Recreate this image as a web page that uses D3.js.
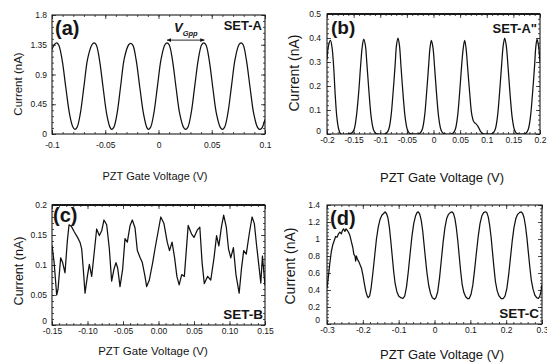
<!DOCTYPE html>
<html><head><meta charset="utf-8">
<script src="https://cdn.jsdelivr.net/npm/d3@7/dist/d3.min.js"></script>
<style>
body{margin:0;background:#fff}
svg{display:block}
text{font-family:"Liberation Sans",Arial,Helvetica,sans-serif;fill:#151515}
</style>
</head><body>
<svg id="chart" width="547" height="362"></svg>
<script>
// ---------- Panel (a) SET-A ----------
const aV=[-0.100,-0.0975,-0.0955,-0.0935,-0.0905,-0.087,-0.0835,-0.0805,-0.0785,-0.0765,-0.0735,-0.070,-0.0665,-0.0625,-0.0605,-0.0585,-0.0555,-0.052,-0.0485,-0.0455,-0.044,-0.042,-0.039,-0.0355,-0.032,-0.028,-0.026,-0.024,-0.021,-0.0175,-0.014,-0.011,-0.0095,-0.0075,-0.0045,-0.001,0.0025,0.006,0.008,0.010,0.013,0.0165,0.020,0.0235,0.0255,0.0275,0.0305,0.034,0.0375,0.0405,0.0425,0.0445,0.0475,0.051,0.0545,0.058,0.060,0.062,0.065,0.0685,0.072,0.0755,0.0775,0.0795,0.0825,0.086,0.0895,0.093,0.095,0.097,0.100];
const aI=[1.28,1.36,1.38,1.34,1.12,0.70,0.30,0.11,0.07,0.10,0.30,0.72,1.14,1.35,1.38,1.35,1.13,0.70,0.29,0.10,0.07,0.10,0.30,0.73,1.15,1.35,1.37,1.34,1.12,0.70,0.30,0.10,0.07,0.10,0.30,0.72,1.14,1.35,1.38,1.35,1.13,0.70,0.30,0.10,0.07,0.10,0.30,0.72,1.14,1.35,1.38,1.35,1.13,0.70,0.30,0.10,0.07,0.10,0.30,0.72,1.14,1.35,1.38,1.35,1.12,0.70,0.30,0.10,0.07,0.09,0.22];
const aXTicks=[-0.1,-0.05,0,0.05,0.1], aXLabels=["-0.1","-0.05","0","0.05","0.1"];
const aYTicks=[0,0.45,0.9,1.35,1.8], aYLabels=["0","0.45","0.9","1.35","1.8"];

// ---------- Panel (b) SET-A" ----------
const bV=[-0.200,-0.197,-0.1935,-0.1905,-0.1875,-0.1845,-0.1815,-0.178,-0.174,-0.160,-0.153,-0.149,-0.145,-0.141,-0.137,-0.134,-0.131,-0.128,-0.125,-0.121,-0.117,-0.113,-0.109,-0.104,-0.092,-0.088,-0.084,-0.080,-0.076,-0.072,-0.0695,-0.0667,-0.064,-0.061,-0.057,-0.053,-0.049,-0.045,-0.040,-0.029,-0.025,-0.021,-0.017,-0.013,-0.009,-0.0065,-0.004,-0.001,0.002,0.006,0.010,0.014,0.018,0.022,0.033,0.037,0.041,0.045,0.049,0.053,0.056,0.0585,0.061,0.064,0.068,0.072,0.076,0.080,0.084,0.088,0.092,0.096,0.108,0.112,0.116,0.120,0.124,0.128,0.131,0.1337,0.1365,0.140,0.144,0.148,0.152,0.156,0.160,0.170,0.174,0.178,0.182,0.186,0.190,0.192,0.1945,0.197,0.200];
const bI=[0.31,0.37,0.39,0.36,0.28,0.16,0.07,0.02,0.0,0.0,0.005,0.02,0.07,0.16,0.28,0.36,0.395,0.37,0.29,0.17,0.07,0.02,0.003,0.0,0.0,0.004,0.02,0.07,0.17,0.29,0.37,0.40,0.37,0.28,0.16,0.065,0.018,0.003,0.0,0.0,0.004,0.02,0.07,0.17,0.29,0.36,0.39,0.36,0.28,0.16,0.065,0.018,0.003,0.0,0.0,0.004,0.02,0.07,0.17,0.29,0.36,0.39,0.36,0.28,0.17,0.08,0.05,0.042,0.03,0.012,0.002,0.0,0.0,0.004,0.02,0.07,0.17,0.29,0.37,0.40,0.37,0.28,0.16,0.065,0.018,0.003,0.0,0.0,0.004,0.02,0.07,0.17,0.29,0.36,0.395,0.37,0.30];
const bXTicks=[-0.2,-0.15,-0.1,-0.05,0,0.05,0.1,0.15,0.2], bXLabels=["-0.2","-0.15","-0.1","-0.05","0","0.05","0.1","0.15","0.2"];
const bYTicks=[0,0.1,0.2,0.3,0.4,0.5], bYLabels=["0","0.1","0.2","0.3","0.4","0.5"];

// ---------- Panel (c) SET-B ----------
const cV=[-0.150,-0.147,-0.1434,-0.1415,-0.1378,-0.135,-0.1317,-0.1284,-0.126,-0.1225,-0.1185,-0.114,-0.1106,-0.1082,-0.1059,-0.1035,-0.1002,-0.0974,-0.0941,-0.0908,-0.0871,-0.0833,-0.080,-0.0768,-0.073,-0.0693,-0.066,-0.0627,-0.0599,-0.0575,-0.0542,-0.0505,-0.0472,-0.0439,-0.040,-0.0369,-0.0331,-0.0298,-0.0261,-0.0228,-0.019,-0.0167,-0.0129,-0.0082,-0.0045,0.0032,0.0077,0.0123,0.0155,0.0191,0.0227,0.0259,0.0291,0.0327,0.0364,0.0418,0.0464,0.050,0.0545,0.0582,0.0614,0.0645,0.0691,0.0736,0.0782,0.0818,0.085,0.0886,0.0918,0.0955,0.0986,0.1018,0.1055,0.1091,0.1136,0.1168,0.120,0.1236,0.1282,0.1318,0.135,0.1382,0.1409,0.1441,0.1464,0.150];
const cI=[0.133,0.104,0.050,0.060,0.112,0.104,0.087,0.140,0.167,0.164,0.155,0.146,0.138,0.127,0.093,0.053,0.081,0.101,0.081,0.118,0.160,0.149,0.157,0.175,0.167,0.128,0.073,0.093,0.104,0.095,0.064,0.093,0.144,0.138,0.166,0.175,0.162,0.124,0.113,0.104,0.081,0.064,0.075,0.104,0.130,0.180,0.169,0.138,0.124,0.138,0.112,0.081,0.067,0.084,0.081,0.166,0.152,0.146,0.158,0.163,0.104,0.069,0.081,0.075,0.112,0.149,0.132,0.163,0.183,0.163,0.127,0.112,0.129,0.084,0.053,0.093,0.124,0.118,0.155,0.180,0.169,0.132,0.104,0.070,0.115,0.066];
const cXTicks=[-0.15,-0.1,-0.05,0,0.05,0.1,0.15], cXLabels=["-0.15","-0.10","-0.05","0.00","0.05","0.10","0.15"];
const cYTicks=[0,0.05,0.1,0.15,0.2], cYLabels=["0","0.05","0.1","0.15","0.2"];

// ---------- Panel (d) SET-C ----------
const dV=[-0.300,-0.296,-0.292,-0.288,-0.284,-0.280,-0.276,-0.272,-0.268,-0.264,-0.260,-0.257,-0.254,-0.250,-0.247,-0.243,-0.239,-0.236,-0.232,-0.228,-0.225,-0.222,-0.220,-0.218,-0.215,-0.212,-0.208,-0.204,-0.200,-0.196,-0.192,-0.188,-0.185,-0.181,-0.177,-0.172,-0.167,-0.162,-0.157,-0.152,-0.147,-0.142,-0.138,-0.134,-0.130,-0.126,-0.122,-0.118,-0.114,-0.110,-0.105,-0.100,-0.094,-0.088,-0.083,-0.078,-0.073,-0.068,-0.063,-0.058,-0.053,-0.049,-0.045,-0.041,-0.037,-0.033,-0.029,-0.025,-0.021,-0.016,-0.011,-0.006,0.000,0.004,0.009,0.014,0.019,0.024,0.029,0.034,0.039,0.044,0.049,0.053,0.057,0.061,0.065,0.069,0.073,0.077,0.082,0.087,0.092,0.097,0.102,0.107,0.112,0.117,0.122,0.127,0.132,0.137,0.142,0.146,0.150,0.154,0.158,0.162,0.166,0.170,0.175,0.180,0.186,0.192,0.197,0.202,0.207,0.212,0.217,0.222,0.227,0.232,0.237,0.242,0.246,0.250,0.254,0.258,0.262,0.266,0.270,0.275,0.280,0.285,0.290,0.294,0.297,0.300];
const dI=[0.42,0.56,0.72,0.85,0.93,0.98,1.03,1.02,1.06,1.08,1.06,1.10,1.12,1.09,1.12,1.10,1.07,1.04,0.97,0.90,0.82,0.80,0.74,0.80,0.76,0.74,0.70,0.66,0.58,0.48,0.39,0.33,0.31,0.33,0.42,0.60,0.80,1.00,1.14,1.23,1.28,1.30,1.32,1.30,1.25,1.14,0.98,0.80,0.62,0.48,0.38,0.33,0.31,0.30,0.33,0.44,0.62,0.83,1.03,1.18,1.27,1.31,1.32,1.29,1.22,1.10,0.93,0.76,0.60,0.45,0.36,0.31,0.29,0.31,0.38,0.54,0.75,0.96,1.13,1.24,1.29,1.31,1.32,1.30,1.24,1.13,0.98,0.80,0.62,0.47,0.37,0.32,0.30,0.30,0.35,0.46,0.64,0.84,1.03,1.18,1.27,1.31,1.32,1.31,1.26,1.16,1.02,0.84,0.66,0.50,0.39,0.33,0.30,0.30,0.33,0.42,0.58,0.78,0.98,1.14,1.24,1.29,1.31,1.32,1.30,1.25,1.15,1.01,0.84,0.67,0.52,0.41,0.34,0.31,0.30,0.33,0.38,0.46];
const dXTicks=[-0.3,-0.2,-0.1,0,0.1,0.2,0.3], dXLabels=["-0.3","-0.2","-0.1","0","0.1","0.2","0.3"];
const dYTicks=[0,0.2,0.4,0.6,0.8,1,1.2,1.4], dYLabels=["0","0.2","0.4","0.6","0.8","1","1.2","1.4"];

const xTitle="PZT Gate Voltage (V)", yTitle="Current (nA)";

const svg=d3.select("#chart");
const defs=svg.append("defs");

function minorTicks(domain,step){
  const out=[];
  const n=Math.round((domain[1]-domain[0])/step);
  for(let i=0;i<=n;i++) out.push(domain[0]+i*step);
  return out;
}

function panel(p){
  const g=svg.append("g");
  const x=d3.scaleLinear().domain(p.xd).range([p.L,p.R]);
  const y=d3.scaleLinear().domain(p.yd).range([p.B,p.T]);
  const id="clip"+p.key;
  defs.append("clipPath").attr("id",id).append("rect")
    .attr("x",p.L).attr("y",p.T).attr("width",p.R-p.L).attr("height",p.B-p.T);

  const styleAxis=sel=>{sel.select(".domain").remove();
    sel.selectAll("line").attr("stroke","#222").attr("stroke-width",0.8);
    sel.selectAll("text").attr("font-size",p.tickFs).attr("fill","#151515")
      .attr("font-family","Liberation Sans, Arial, sans-serif");};

  const xm=minorTicks(p.xd,p.xMinor), ym=minorTicks(p.yd,p.yMinor);
  g.append("g").attr("transform",`translate(0,${p.B})`).call(d3.axisBottom(x).tickValues(xm).tickFormat("").tickSize(-2)).call(styleAxis);
  g.append("g").attr("transform",`translate(0,${p.T})`).call(d3.axisTop(x).tickValues(xm).tickFormat("").tickSize(-2)).call(styleAxis);
  g.append("g").attr("transform",`translate(${p.L},0)`).call(d3.axisLeft(y).tickValues(ym).tickFormat("").tickSize(-2)).call(styleAxis);
  g.append("g").attr("transform",`translate(${p.R},0)`).call(d3.axisRight(y).tickValues(ym).tickFormat("").tickSize(-2)).call(styleAxis);
  g.append("g").attr("transform",`translate(0,${p.B})`)
    .call(d3.axisBottom(x).tickValues(p.xt).tickFormat((d,i)=>p.xl[i]).tickSizeInner(-4).tickSizeOuter(0).tickPadding(p.xPad)).call(styleAxis);
  g.append("g").attr("transform",`translate(0,${p.T})`)
    .call(d3.axisTop(x).tickValues(p.xt).tickFormat("").tickSizeInner(-4).tickSizeOuter(0)).call(styleAxis);
  const ya=g.append("g").attr("transform",`translate(${p.L},0)`)
    .call(d3.axisLeft(y).tickValues(p.yt).tickFormat((d,i)=>p.yl[i]).tickSizeInner(-4).tickSizeOuter(0).tickPadding(p.yPad)).call(styleAxis);
  // lift the "0" label off the x labels
  ya.selectAll(".tick text").filter(d=>d===0).attr("dy",(0.32-p.zeroLift/p.tickFs)+"em");
  g.append("g").attr("transform",`translate(${p.R},0)`)
    .call(d3.axisRight(y).tickValues(p.yt).tickFormat("").tickSizeInner(-4).tickSizeOuter(0)).call(styleAxis);

  g.append("rect").attr("x",p.L).attr("y",p.T).attr("width",p.R-p.L).attr("height",p.B-p.T)
    .attr("fill","none").attr("stroke","#1a1a1a").attr("stroke-width",1.1);
  if(p.thickTop) g.append("line").attr("x1",p.L).attr("x2",p.R).attr("y1",p.T).attr("y2",p.T)
    .attr("stroke","#1a1a1a").attr("stroke-width",1.8);

  const line=d3.line().x(d=>x(d[0])).y(d=>y(d[1])).curve(p.curve);
  g.append("path").datum(d3.zip(p.vx,p.vy)).attr("d",line)
    .attr("clip-path",`url(#${id})`)
    .attr("fill","none").attr("stroke","#111").attr("stroke-width",1.25).attr("stroke-linejoin","round");

  g.append("text").attr("x",p.letter[0]).attr("y",p.letter[1]).attr("font-size",p.letter[2])
    .attr("font-weight","bold").text(p.letter[3]);
  g.append("text").attr("x",p.set[0]).attr("y",p.set[1]).attr("font-size",p.set[2])
    .attr("font-weight","bold").attr("text-anchor","end").text(p.set[3]);
  g.append("text").attr("x",p.xT[0]).attr("y",p.xT[1]).attr("font-size",p.xT[2])
    .attr("text-anchor","middle").text(xTitle);
  g.append("text").attr("transform",`translate(${p.yT[0]},${p.yT[1]}) rotate(-90)`)
    .attr("font-size",p.yT[2]).attr("text-anchor","middle").attr("dy","0.35em").text(yTitle);
  return {g,x,y};
}

const smooth=d3.curveCatmullRom.alpha(0.5);

const pa=panel({key:"a",L:52,R:265,T:15,B:134,xd:[-0.1,0.1],yd:[0,1.8],
  xt:aXTicks,xl:aXLabels,yt:aYTicks,yl:aYLabels,xMinor:0.01,yMinor:0.09,
  tickFs:8.5,xPad:8,yPad:5,zeroLift:0,vx:aV,vy:aI,curve:smooth,
  letter:[55,35,20,"(a)"],set:[262,30,13,"SET-A"],xT:[155,180,11],yT:[18,84,11.5]});

panel({key:"b",L:327,R:540,T:14,B:134,xd:[-0.2,0.2],yd:[0,0.5],
  xt:bXTicks,xl:bXLabels,yt:bYTicks,yl:bYLabels,xMinor:0.01,yMinor:0.02,
  tickFs:8.5,xPad:3,yPad:6,zeroLift:3,vx:bV,vy:bI,curve:smooth,thickTop:true,
  letter:[331,34,19,"(b)"],set:[537,33,13,"SET-A\""],xT:[442,182,13],yT:[294,73,14]});

panel({key:"c",L:52,R:265,T:205,B:325,xd:[-0.15,0.15],yd:[0,0.2],
  xt:cXTicks,xl:cXLabels,yt:cYTicks,yl:cYLabels,xMinor:0.01,yMinor:0.01,
  tickFs:8.5,xPad:3,yPad:5,zeroLift:4,vx:cV,vy:cI,curve:d3.curveLinear,thickTop:true,
  letter:[53,222,20,"(c)"],set:[263,319,13.5,"SET-B"],xT:[153,355,11.5],yT:[19,271,12.5]});

panel({key:"d",L:327,R:542,T:205,B:324,xd:[-0.3,0.3],yd:[0,1.4],
  xt:dXTicks,xl:dXLabels,yt:dYTicks,yl:dYLabels,xMinor:0.02,yMinor:0.04,
  tickFs:8.5,xPad:3,yPad:7,zeroLift:4,vx:dV,vy:dI,curve:d3.curveLinear,
  letter:[330,225,20,"(d)"],set:[539,318,13.5,"SET-C"],xT:[442,359,13],yT:[290,266,14]});

// V_Gpp annotation in panel (a)
const vgppX=[0.008,0.043], vgppY=1.42;
defs.append("marker").attr("id","arr").attr("viewBox","0 0 10 10").attr("refX",9).attr("refY",5)
  .attr("markerWidth",5).attr("markerHeight",5).attr("orient","auto-start-reverse")
  .append("path").attr("d","M0,1L10,5L0,9Z").attr("fill","#111");
pa.g.append("line").attr("x1",pa.x(vgppX[0])).attr("x2",pa.x(vgppX[1]))
  .attr("y1",pa.y(vgppY)).attr("y2",pa.y(vgppY)).attr("stroke","#111").attr("stroke-width",0.9)
  .attr("marker-start","url(#arr)").attr("marker-end","url(#arr)");
const vt=pa.g.append("text").attr("x",174).attr("y",32).attr("font-weight","bold").attr("font-style","italic");
vt.append("tspan").attr("font-size",13).text("V");
vt.append("tspan").attr("font-size",7.5).attr("dy",4).text("Gpp");
</script>
</body></html>
